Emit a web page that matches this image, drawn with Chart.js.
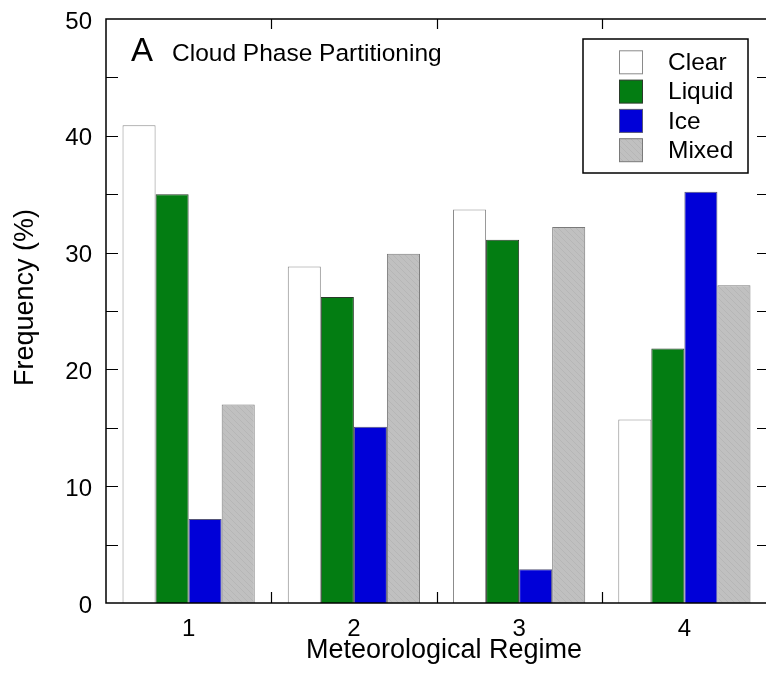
<!DOCTYPE html>
<html>
<head>
<meta charset="utf-8">
<script src="https://cdn.jsdelivr.net/npm/chart.js@4/dist/chart.umd.min.js"></script>
<style>
  html, body { margin: 0; padding: 0; background: #fff; overflow: hidden; }
  #wrap { width: 768px; height: 674px; }
</style>
</head>
<body>
<div id="wrap"><canvas id="c" width="768" height="674"></canvas></div>
<script>
// Frequency (%) of each cloud phase in each meteorological regime
const regimes = ['1', '2', '3', '4'];
const clearFreq  = [40.9, 28.8, 33.7, 15.7];
const liquidFreq = [35.0, 26.2, 31.1, 21.8];
const iceFreq    = [7.2, 15.1, 2.9, 35.2];
const mixedFreq  = [17.0, 29.9, 32.2, 27.2];
const phaseNames = ['Clear', 'Liquid', 'Ice', 'Mixed'];
const yMin = 0, yMax = 50, yLabelStep = 10, yTickStep = 5;

const FONT = '"Liberation Sans", Arial, Helvetica, sans-serif';

// faint diagonal texture for the mixed-phase bars
function hatch() {
  const p = document.createElement('canvas');
  p.width = 6; p.height = 6;
  const g = p.getContext('2d');
  g.fillStyle = '#c0c0c0';
  g.fillRect(0, 0, 6, 6);
  g.strokeStyle = '#b6b6b6';
  g.lineWidth = 1;
  g.beginPath();
  g.moveTo(0, 0); g.lineTo(6, 6);
  g.moveTo(-3, 3); g.lineTo(3, 9);
  g.moveTo(3, -3); g.lineTo(9, 3);
  g.stroke();
  return g.createPattern(p, 'repeat');
}
const ctx0 = document.getElementById('c').getContext('2d');
const mixedFill = hatch();

// frame, inward ticks, legend box, panel title, axis titles
const decorations = {
  id: 'decorations',
  afterDatasetsDraw(chart) {
    const { ctx, chartArea: a, scales } = chart;
    const y = scales.y, x = scales.x;
    ctx.save();
    ctx.strokeStyle = '#000';
    ctx.lineWidth = 1.5;
    ctx.strokeRect(a.left, a.top, a.right - a.left, a.bottom - a.top);

    ctx.lineWidth = 1.2;
    ctx.beginPath();
    for (let v = yMin + yTickStep; v < yMax; v += yTickStep) {
      const py = Math.round(y.getPixelForValue(v)) + 0.5;
      ctx.moveTo(a.left, py); ctx.lineTo(a.left + 12, py);
      ctx.moveTo(a.right, py); ctx.lineTo(a.right - 10, py);
    }
    const n = regimes.length;
    for (let i = 1; i < n; i++) {
      const px = Math.round((x.getPixelForValue(i - 1) + x.getPixelForValue(i)) / 2) + 0.5;
      ctx.moveTo(px, a.bottom); ctx.lineTo(px, a.bottom - 11);
      ctx.moveTo(px, a.top); ctx.lineTo(px, a.top + 10);
    }
    ctx.stroke();

    // legend
    const lx = 583, ly = 39, lw = 165, lh = 134;
    ctx.fillStyle = '#fff';
    ctx.fillRect(lx, ly, lw, lh);
    ctx.lineWidth = 1.5;
    ctx.strokeRect(lx, ly, lw, lh);
    ctx.font = '24.5px ' + FONT;
    ctx.textBaseline = 'middle';
    ctx.textAlign = 'left';
    chart.data.datasets.forEach((ds, i) => {
      const cy = 62.3 + i * 29.3;
      ctx.fillStyle = ds.backgroundColor;
      ctx.fillRect(619, cy - 11.5, 23, 23);
      ctx.lineWidth = 1;
      ctx.strokeStyle = ds.borderColor;
      ctx.strokeRect(619.5, cy - 11.5, 23, 23);
      ctx.fillStyle = '#000';
      ctx.fillText(ds.label, 668, cy + 1);
    });

    // panel title
    ctx.textBaseline = 'alphabetic';
    ctx.fillStyle = '#000';
    ctx.font = '33px ' + FONT;
    ctx.fillText('A', 131, 61);
    ctx.font = '24.5px ' + FONT;
    ctx.fillText('Cloud Phase Partitioning', 172, 61);

    // x-axis title
    ctx.textAlign = 'center';
    ctx.font = '27px ' + FONT;
    ctx.fillText('Meteorological Regime', 444, 658);

    // y-axis title
    ctx.translate(33, 297.5);
    ctx.rotate(-Math.PI / 2);
    ctx.textBaseline = 'alphabetic';
    ctx.font = '27px ' + FONT;
    ctx.fillText('Frequency (%)', 0, 0);
    ctx.restore();
  }
};

new Chart(ctx0, {
  type: 'bar',
  data: {
    labels: regimes,
    datasets: [
      { label: phaseNames[0], data: clearFreq,  backgroundColor: '#ffffff', borderColor: '#8a8a8a' },
      { label: phaseNames[1], data: liquidFreq, backgroundColor: '#037d12', borderColor: '#2a3a2a' },
      { label: phaseNames[2], data: iceFreq,    backgroundColor: '#0000d8', borderColor: '#555577' },
      { label: phaseNames[3], data: mixedFreq,  backgroundColor: mixedFill, borderColor: '#7a7a7a' }
    ].map(d => Object.assign(d, { borderWidth: 1, categoryPercentage: 0.8, barPercentage: 1.0 }))
  },
  options: {
    responsive: false,
    animation: false,
    layout: { padding: { top: 19, right: 1, left: 0, bottom: 0 } },
    plugins: { legend: { display: false }, tooltip: { enabled: false } },
    scales: {
      x: {
        grid: { display: false, drawTicks: false },
        border: { display: false },
        ticks: { color: '#000', font: { family: FONT, size: 24 }, padding: 12 },
        afterFit(s) { s.height = 71; s.paddingLeft = 0; s.paddingRight = 0; }
      },
      y: {
        min: yMin, max: yMax,
        grid: { display: false, drawTicks: false },
        border: { display: false },
        ticks: { stepSize: yLabelStep, color: '#000', font: { family: FONT, size: 24 }, padding: 14, labelOffset: 3 },
        afterFit(s) { s.width = 106; s.paddingTop = 0; s.paddingBottom = 0; }
      }
    }
  },
  plugins: [decorations]
});
</script>
</body>
</html>
